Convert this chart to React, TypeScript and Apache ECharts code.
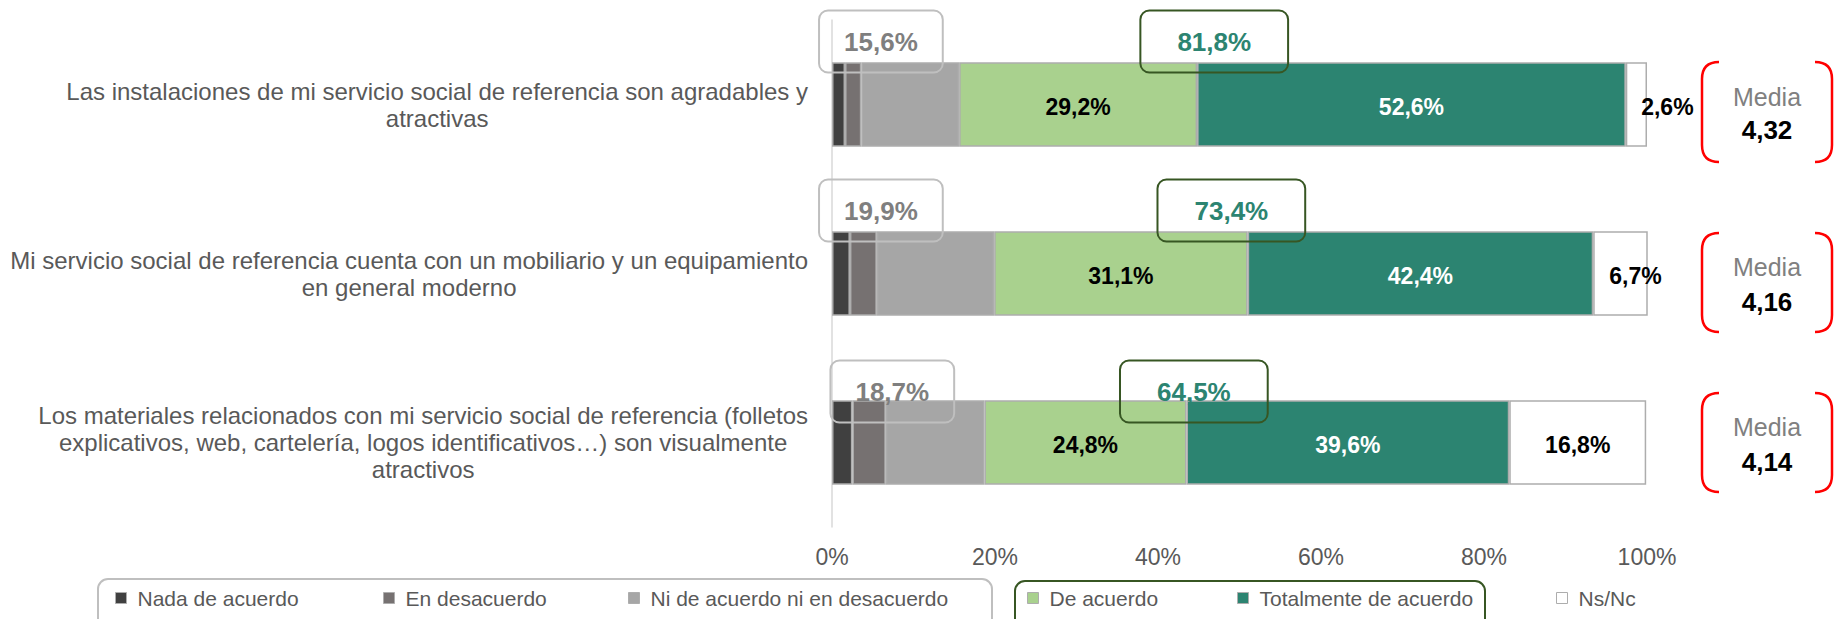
import React, { useEffect, useRef } from "react";
import * as echarts from "echarts";

const categories = [
  "Las instalaciones de mi servicio social de referencia son agradables y\natractivas",
  "Mi servicio social de referencia cuenta con un mobiliario y un equipamiento\nen general moderno",
  "Los materiales relacionados con mi servicio social de referencia (folletos\nexplicativos, web, cartelería, logos identificativos…) son visualmente\natractivos",
];
const seriesNames = [
  "Nada de acuerdo",
  "En desacuerdo",
  "Ni de acuerdo ni en desacuerdo",
  "De acuerdo",
  "Totalmente de acuerdo",
  "Ns/Nc",
];
const nada = [1.6, 2.2, 2.5];
const desacuerdo = [2.0, 3.3, 4.1];
const neutral = [12.0, 14.4, 12.1];
const acuerdo = [29.2, 31.1, 24.8];
const totalmente = [52.6, 42.4, 39.6];
const nsnc = [2.6, 6.7, 16.8];
const desacuerdoTotal = [15.6, 19.9, 18.7];
const acuerdoTotal = [81.8, 73.4, 64.5];
const medias = [4.32, 4.16, 4.14];

const FONT = "'Liberation Sans', Arial, sans-serif";
const colors = ["#404040", "#767171", "#A6A6A6", "#A9D18E", "#2C8471", "#FFFFFF"];
const fmt = (v: number) => v.toFixed(1).replace(".", ",") + "%";

// layout (annotation placement)
const grayBoxX = [6.0, 6.0, 7.4];
const greenBoxX = [46.9, 49.0, 44.4];
const boxDy = [-63, -63, -51];
const nsncDx = [31, 15, 0];
const mediaBoxes = [
  { top: 62, bottom: 162, t1: 97, t2: 130 },
  { top: 233, bottom: 332, t1: 267, t2: 302 },
  { top: 393, bottom: 492, t1: 427, t2: 462 },
];
const legendPos = [115, 383, 628, 1027, 1237, 1556];

echarts.graphic.registerShape(
  "bracket",
  echarts.graphic.extendShape({
    shape: { x: 0, y: 0, h: 100, r: 16, dir: 1 },
    buildPath(ctx: any, s: any) {
      ctx.moveTo(s.x + s.dir * s.r, s.y);
      ctx.quadraticCurveTo(s.x, s.y, s.x, s.y + s.r);
      ctx.lineTo(s.x, s.y + s.h - s.r);
      ctx.quadraticCurveTo(s.x, s.y + s.h, s.x + s.dir * s.r, s.y + s.h);
    },
  }) as any
);

export default function App() {
  const ref = useRef<HTMLDivElement>(null);
  useEffect(() => {
    document.body.style.margin = "0";
    const chart = echarts.init(ref.current!, undefined, { renderer: "svg" });
    const values = [nada, desacuerdo, neutral, acuerdo, totalmente, nsnc];
    const barSeries: any[] = seriesNames.map((name, si) => ({
      name,
      type: "bar",
      stack: "total",
      barWidth: "50%",
      itemStyle: { color: colors[si], borderColor: "#ADADAD", borderWidth: 1.5 },
      label: {
        show: si >= 3,
        position: "inside",
        fontFamily: FONT,
        fontSize: 23,
        fontWeight: "bold",
        color: si === 4 ? "#FFFFFF" : "#000000",
        formatter: (p: any) => fmt(p.value),
      },
      data: values[si].map((v, i) =>
        si === 5 ? { value: v, label: { offset: [nsncDx[i], 2] } } : { value: v, label: { offset: [0, 2] } }
      ),
    }));
    const boxLabel = (color: string, border: string, padH: number) => ({
      show: true,
      position: "inside",
      fontFamily: FONT,
      fontSize: 26,
      fontWeight: "bold",
      color,
      opacity: 1,
      lineHeight: 30,
      borderColor: border,
      borderWidth: 2,
      borderRadius: 9,
      padding: [16, padH, 16, padH],
    });
    const graySeries = {
      type: "scatter",
      symbolSize: 0,
      silent: true,
      z: 5,
      itemStyle: { opacity: 1 },
      label: { ...boxLabel("#7F7F7F", "#BFBFBF", 25), formatter: (p: any) => fmt(desacuerdoTotal[p.dataIndex]) },
      data: grayBoxX.map((x, i) => ({ value: [x, i], label: { offset: [0, boxDy[i]] } })),
    };
    const greenSeries = {
      type: "scatter",
      symbolSize: 0,
      silent: true,
      z: 5,
      itemStyle: { opacity: 1 },
      label: { ...boxLabel("#2C8471", "#375623", 37), formatter: (p: any) => fmt(acuerdoTotal[p.dataIndex]) },
      data: greenBoxX.map((x, i) => ({ value: [x, i], label: { offset: [0, boxDy[i]] } })),
    };

    const graphics: any[] = [];
    mediaBoxes.forEach((b, i) => {
      const h = b.bottom - b.top;
      graphics.push({
        type: "bracket",
        shape: { x: 1702, y: b.top, h, r: 17, dir: 1 },
        style: { stroke: "#FF0000", lineWidth: 2.5, fill: "none" },
      });
      graphics.push({
        type: "bracket",
        shape: { x: 1832, y: b.top, h, r: 17, dir: -1 },
        style: { stroke: "#FF0000", lineWidth: 2.5, fill: "none" },
      });
      graphics.push({
        type: "text",
        x: 1767,
        y: b.t1,
        style: {
          text: "Media",
          fontFamily: FONT,
          fontSize: 25,
          fill: "#808080",
          align: "center",
          verticalAlign: "middle",
          textAlign: "center",
          textVerticalAlign: "middle",
        },
      });
      graphics.push({
        type: "text",
        x: 1767,
        y: b.t2,
        style: {
          text: medias[i].toFixed(2).replace(".", ","),
          fontFamily: FONT,
          fontSize: 26,
          fontWeight: "bold",
          fill: "#000000",
          align: "center",
          verticalAlign: "middle",
          textAlign: "center",
          textVerticalAlign: "middle",
        },
      });
    });
    graphics.push({
      type: "rect",
      shape: { x: 98, y: 579, width: 894, height: 70, r: 10 },
      style: { fill: "none", stroke: "#BFBFBF", lineWidth: 2 },
    });
    graphics.push({
      type: "rect",
      shape: { x: 1015, y: 581, width: 470, height: 70, r: 10 },
      style: { fill: "none", stroke: "#375623", lineWidth: 2 },
    });

    chart.setOption({
      animation: false,
      grid: { left: 832, right: 187, top: 20, bottom: 92 },
      xAxis: {
        type: "value",
        min: 0,
        max: 100,
        interval: 20,
        splitLine: { show: false },
        axisLine: { show: false },
        axisTick: { show: false },
        axisLabel: {
          formatter: "{value}%",
          fontFamily: FONT,
          fontSize: 23,
          color: "#595959",
          margin: 18,
        },
      },
      yAxis: {
        type: "category",
        inverse: true,
        data: categories,
        axisLine: { show: true, lineStyle: { color: "#D9D9D9", width: 1.5 } },
        axisTick: { show: false },
        axisLabel: {
          align: "right",
          margin: 24,
          formatter: (v: string) => v.split("\n").map((l) => `{c|${l}}`).join("\n"),
          rich: {
            c: { align: "center", fontFamily: FONT, fontSize: 24, lineHeight: 27, color: "#595959" },
          },
        },
      },
      legend: seriesNames.map((n, i) => ({
        data: [n],
        left: legendPos[i],
        top: 587,
        padding: 0,
        icon: "rect",
        itemWidth: 11,
        itemHeight: 11,
        itemStyle: { borderWidth: 1 },
        textStyle: { fontFamily: FONT, fontSize: 21, color: "#595959", lineHeight: 22, padding: [0, 0, 0, 6] },
        selectedMode: false,
      })),
      graphic: graphics,
      series: [...barSeries, graySeries, greenSeries],
    });
    return () => chart.dispose();
  }, []);
  return <div ref={ref} style={{ width: 1834, height: 619 }} />;
}
